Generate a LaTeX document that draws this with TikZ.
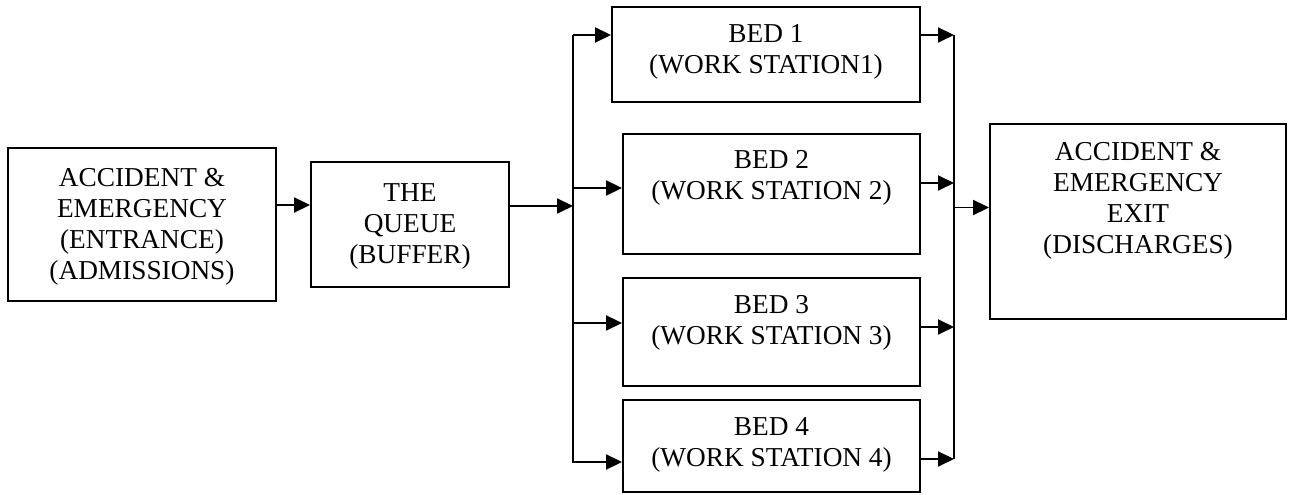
\documentclass[tikz,border=0pt]{standalone}
\usepackage{fontspec}
\setmainfont{Liberation Serif}
\usetikzlibrary{arrows.meta,positioning}

\begin{document}
\begin{tikzpicture}[x=1pt,y=1pt,
    box/.style={draw,line width=1.9pt,inner sep=0pt},
    lbl/.style={align=center,inner sep=0pt,font=\fontsize{27.3}{31}\selectfont},
    flow/.style={line width=1.9pt,-{Triangle[length=16pt,width=15pt]}},
    bus/.style={line width=1.9pt}]
  \useasboundingbox (0,0) rectangle (1290,495);

  % Entrance and queue
  \node[box,minimum width=268pt,minimum height=153pt] (entrance) at (142,270.5) {};
  \node[lbl] (entrancetxt) at (142,268) {ACCIDENT \&\\EMERGENCY\\(ENTRANCE)\\(ADMISSIONS)};
  \node[box,minimum width=198pt,minimum height=125pt] (queue) at (410,270.5) {};
  \node[lbl] (queuetxt) at (410,269) {THE\\QUEUE\\(BUFFER)};

  % Beds
  \node[box,minimum width=308pt,minimum height=95pt] (bed1) at (766,440.5) {};
  \node[lbl] (bed1txt) at (766,443) {BED 1\\(WORK STATION1)};
  \node[box,minimum width=297pt,minimum height=120pt] (bed2) at (771.5,301) {};
  \node[lbl] (bed2txt) at (771.5,317) {BED 2\\(WORK STATION 2)};
  \node[box,minimum width=297pt,minimum height=108pt] (bed3) at (771.5,163) {};
  \node[lbl] (bed3txt) at (771.5,172) {BED 3\\(WORK STATION 3)};
  \node[box,minimum width=297pt,minimum height=92pt] (bed4) at (771.5,49) {};
  \node[lbl] (bed4txt) at (771.5,50) {BED 4\\(WORK STATION 4)};

  % Exit
  \node[box,minimum width=296pt,minimum height=195pt] (exit) at (1138,273.5) {};
  \node[lbl] (exittxt) at (1138,294) {ACCIDENT \&\\EMERGENCY\\EXIT\\(DISCHARGES)};

  % Split and merge lines
  \coordinate (splittop) at (573,460);
  \coordinate (splitbot) at (573,32);
  \coordinate (mergetop) at (954,460);
  \coordinate (mergebot) at (954,36);
  \draw[bus] (splittop) -- (splitbot);
  \draw[bus] (mergetop) -- (mergebot);

  % Arrows
  \draw[flow] (entrance.east |- 0,290) -- (queue.west |- 0,290);
  \draw[flow] (queue.east |- 0,289) -- (splittop |- 0,289);
  \foreach \b/\yin/\yout in {bed1/460/460,bed2/307/312,bed3/172/168,bed4/33/36}{
    \draw[flow] (splittop |- 0,\yin) -- (\b.west |- 0,\yin);
    \draw[flow] (\b.east |- 0,\yout) -- (mergetop |- 0,\yout);
  }
  \draw[flow] (mergetop |- 0,287.5) -- (exit.west |- 0,287.5);
\end{tikzpicture}
\end{document}
